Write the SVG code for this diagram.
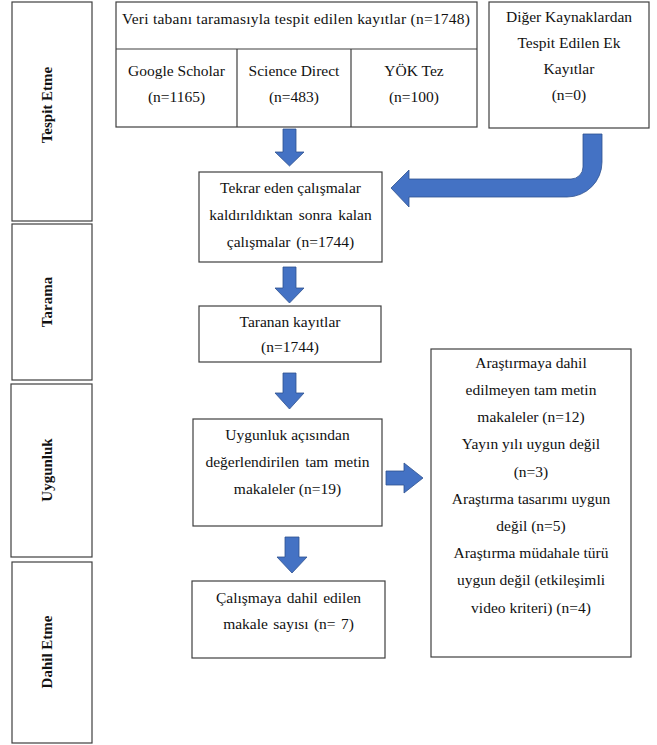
<svg xmlns="http://www.w3.org/2000/svg" width="657" height="745" viewBox="0 0 657 745">
<style>
.box{fill:#fff;stroke:#3f3f3f;stroke-width:1.2}
.ln{stroke:#3f3f3f;stroke-width:1.2;fill:none}
.t{font-family:"Liberation Serif","Times New Roman",serif;font-size:15.5px;fill:#111;text-anchor:middle}
.lab{font-family:"Liberation Serif","Times New Roman",serif;font-size:15px;font-weight:bold;fill:#111;text-anchor:middle}
.arr{fill:#4472C4;stroke:#2F528F;stroke-width:0.8}
</style>
<rect width="657" height="745" fill="#fff"/>
<g id="stage-tespit">
<rect class="box" x="12" y="2" width="80" height="219"/>
<text class="lab" transform="translate(52,105) rotate(-90)">Tespit Etme</text>
</g>
<g id="stage-tarama">
<rect class="box" x="12" y="224" width="80" height="156"/>
<text class="lab" transform="translate(52,302) rotate(-90)">Tarama</text>
</g>
<g id="stage-uygunluk">
<rect class="box" x="11" y="384" width="81" height="173"/>
<text class="lab" transform="translate(52,470) rotate(-90)">Uygunluk</text>
</g>
<g id="stage-dahil">
<rect class="box" x="12" y="562" width="80" height="181"/>
<text class="lab" transform="translate(52,652) rotate(-90)">Dahil Etme</text>
</g>
<g id="database">
<rect class="box" x="116" y="2" width="361" height="125"/>
<line class="ln" x1="116" y1="49" x2="477" y2="49"/>
<line class="ln" x1="237" y1="49" x2="237" y2="127"/>
<line class="ln" x1="351" y1="49" x2="351" y2="127"/>
<text class="t" x="296" y="24" textLength="348">Veri tabanı taramasıyla tespit edilen kayıtlar (n=1748)</text>
<text class="t" x="176.5" y="76">Google Scholar</text>
<text class="t" x="176.5" y="102">(n=1165)</text>
<text class="t" x="294" y="76">Science Direct</text>
<text class="t" x="294" y="102">(n=483)</text>
<text class="t" x="414" y="76">YÖK Tez</text>
<text class="t" x="414" y="102">(n=100)</text>
</g>
<g id="other-sources">
<rect class="box" x="489" y="2" width="160" height="126"/>
<text class="t" x="569" y="22">Diğer Kaynaklardan</text>
<text class="t" x="569" y="48">Tespit Edilen Ek</text>
<text class="t" x="569" y="74">Kayıtlar</text>
<text class="t" x="569" y="100">(n=0)</text>
</g>
<g id="deduplicated">
<rect class="box" x="199" y="172" width="183" height="90"/>
<text class="t" x="290.5" y="193">Tekrar eden çalışmalar</text>
<text class="t" x="290.5" y="220" word-spacing="2">kaldırıldıktan sonra kalan</text>
<text class="t" x="290.5" y="247" word-spacing="2">çalışmalar (n=1744)</text>
</g>
<g id="screened">
<rect class="box" x="199" y="306" width="182" height="56"/>
<text class="t" x="290" y="327">Taranan kayıtlar</text>
<text class="t" x="290" y="352">(n=1744)</text>
</g>
<g id="eligibility">
<rect class="box" x="193" y="419" width="189" height="107"/>
<text class="t" x="287.5" y="440">Uygunluk açısından</text>
<text class="t" x="287.5" y="467" word-spacing="2">değerlendirilen tam metin</text>
<text class="t" x="287.5" y="494">makaleler (n=19)</text>
</g>
<g id="included">
<rect class="box" x="192" y="581" width="193" height="77"/>
<text class="t" x="288.5" y="603" word-spacing="1.5">Çalışmaya dahil edilen</text>
<text class="t" x="288.5" y="629" word-spacing="1.5">makale sayısı (n= 7)</text>
</g>
<g id="excluded">
<rect class="box" x="431" y="349" width="200" height="308"/>
<text class="t" x="531" y="368">Araştırmaya dahil</text>
<text class="t" x="531" y="395">edilmeyen tam metin</text>
<text class="t" x="531" y="422">makaleler (n=12)</text>
<text class="t" x="531" y="449">Yayın yılı uygun değil</text>
<text class="t" x="531" y="477">(n=3)</text>
<text class="t" x="531" y="504">Araştırma tasarımı uygun</text>
<text class="t" x="531" y="531">değil (n=5)</text>
<text class="t" x="531" y="558">Araştırma müdahale türü</text>
<text class="t" x="531" y="585">uygun değil (etkileşimli</text>
<text class="t" x="531" y="613">video kriteri) (n=4)</text>
</g>
<g id="connectors">
<polygon class="arr" points="283,129 296,129 296,152 304,152 289.5,166 275,152 283,152"/>
<polygon class="arr" points="283,267 296,267 296,288 304,288 289.5,303 275,288 283,288"/>
<polygon class="arr" points="283,373 296,373 296,393 304,393 289.5,409 275,393 283,393"/>
<polygon class="arr" points="285,537 299,537 299,557 307,557 292,573 277,557 285,557"/>
<polygon class="arr" points="386,471 404,471 404,463 423,478 404,493 404,485 386,485"/>
<path class="arr" d="M583,134 L602,134 L602,162 A35,35 0 0 1 567,197 L409,197 L409,207 L391,188 L409,170 L409,179 L571,179 A12,12 0 0 0 583,167 Z"/>
</g>
</svg>
